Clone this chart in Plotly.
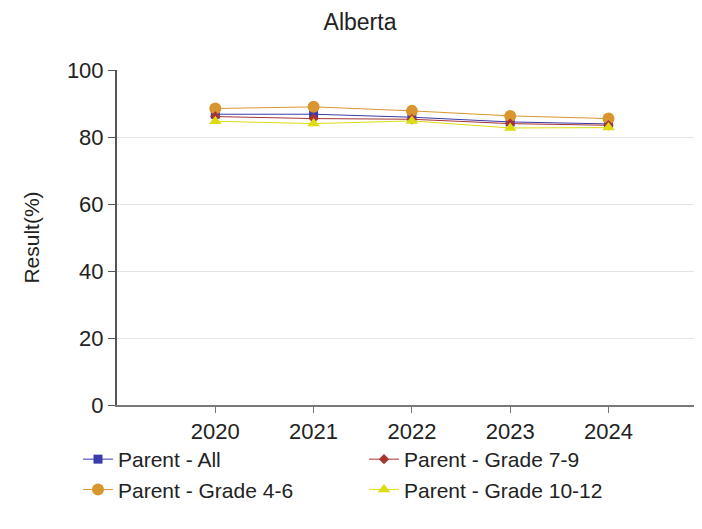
import plotly.graph_objects as go

# ==========================================
# DATA
# ==========================================

years = [2020, 2021, 2022, 2023, 2024]

parent_all = [86.8, 86.8, 85.9, 84.5, 83.9]
parent_4_6 = [88.5, 89.0, 87.8, 86.3, 85.5]
parent_7_9 = [86.1, 85.5, 85.3, 84.0, 83.5]
parent_10_12 = [84.7, 84.0, 84.8, 82.7, 82.8]

FONT = "Liberation Sans, Arial, sans-serif"

# page body keeps its 8px margin, so the figure is made smaller to fit the window
W, H = 686, 513
L, R, T, B = 109, 0, 62, 116
PW, PH = W - L - R, H - T - B

# ==========================================
# TRACES
# ==========================================

series = [
    ("Parent - All", parent_all, "#3a3aaa", "square", 9, 1),
    ("Parent - Grade 4-6", parent_4_6, "#d9962f", "circle", 12, 3),
    ("Parent - Grade 7-9", parent_7_9, "#a83434", "diamond", 8, 2),
    ("Parent - Grade 10-12", parent_10_12, "#dcdc10", "triangle-up", 11, 4),
]

fig = go.Figure()

for name, vals, color, symbol, size, rank in series:
    fig.add_trace(
        go.Scatter(
            x=years,
            y=vals,
            name=name,
            mode="lines+markers",
            line=dict(color=color, width=1),
            marker=dict(symbol=symbol, size=size, color=color),
            legendrank=rank,
        )
    )

# ==========================================
# LAYOUT
# ==========================================

fig.update_layout(
    width=W,
    height=H,
    template="plotly_white",
    paper_bgcolor="white",
    plot_bgcolor="white",
    font=dict(family=FONT, size=22, color="#222222"),
    margin=dict(l=L, r=R, t=T, b=B),
    title=dict(
        text="Alberta",
        x=352 / W,
        xanchor="center",
        y=1 - 14 / H,
        yanchor="middle",
        font=dict(family=FONT, size=23, color="#222222"),
    ),
    xaxis=dict(
        range=[2019, 2024.87],
        tickvals=years,
        showgrid=False,
        zeroline=False,
        showline=True,
        linecolor="#777777",
        linewidth=1.5,
        ticks="outside",
        ticklen=6,
        tickcolor="#777777",
        tickfont=dict(size=22),
    ),
    yaxis=dict(
        range=[0, 100],
        tickvals=[0, 20, 40, 60, 80, 100],
        showgrid=True,
        gridcolor="#e4e4e4",
        zeroline=False,
        showline=True,
        linecolor="#555555",
        linewidth=2,
        ticks="outside",
        ticklen=7,
        tickcolor="#555555",
        tickfont=dict(size=22),
        title=dict(text="Result(%)", standoff=22, font=dict(size=21)),
    ),
    legend=dict(
        orientation="h",
        entrywidth=241,
        entrywidthmode="pixels",
        x=(70 - L) / PW,
        xanchor="left",
        y=-(431 - (T + PH)) / PH,
        yanchor="top",
        font=dict(size=21),
        bgcolor="rgba(0,0,0,0)",
    ),
)

fig.write_html("out.html")
